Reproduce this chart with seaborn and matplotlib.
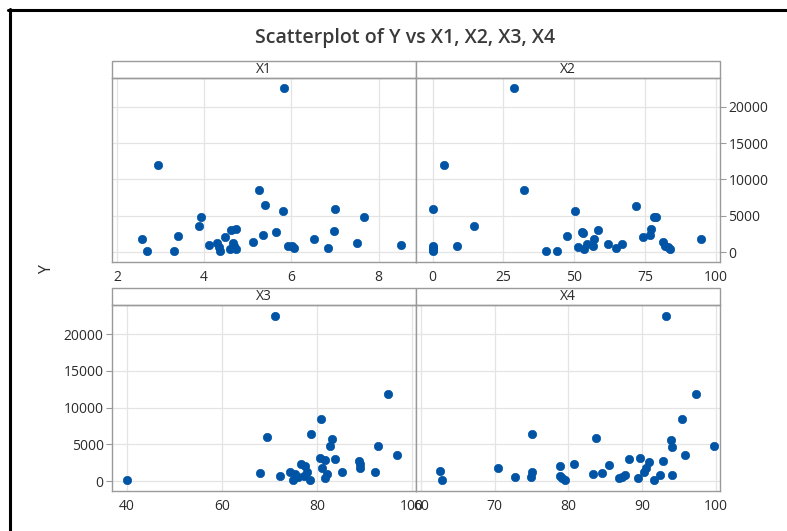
import matplotlib
matplotlib.use("Agg")
import matplotlib.pyplot as plt
import seaborn as sns
import pandas as pd
from matplotlib.patches import Rectangle
from matplotlib.lines import Line2D

# values
x1 = [5.84, 2.93, 5.26, 5.39, 5.81, 7.00, 7.66, 3.92, 3.89, 2.57, 2.68, 3.39, 3.31, 4.11, 4.29, 4.33, 4.36, 4.47,
      4.61, 4.74, 4.59, 4.67, 4.68, 4.74, 5.12, 5.34, 5.65, 5.92, 6.02, 6.05, 6.53, 6.83, 6.98, 7.50, 8.51]
y1 = [22550, 11950, 8550, 6450, 5730, 6000, 4820, 4820, 3590, 1820, 180, 2270, 180, 1050, 1230, 770, 180, 2140,
      3050, 3180, 450, 1230, 860, 450, 1360, 2410, 2730, 820, 910, 640, 1820, 640, 2860, 1230, 950]

x2 = [28.7, 4.1, 32.4, 0, 50.2, 71.9, 78.1, 79.0, 14.6, 77.2, 58.4, 52.9, 53.2, 47.5, 74.3, 76.9, 57.1, 94.7,
      8.5, 0, 0, 0, 0, 39.9, 44.0, 51.3, 53.4, 54.4, 56.8, 61.8, 64.6, 66.9, 81.4, 82.1, 83.0, 84.0]
y2 = [22550, 11950, 8550, 5950, 5680, 6410, 4770, 4770, 3550, 3140, 3000, 2820, 2640, 2230, 2090, 2360, 1770, 1770,
      910, 910, 590, 140, 410, 140, 140, 730, 500, 1180, 820, 1180, 590, 1180, 1360, 910, 680, 500]

x3 = [71.2, 95.0, 80.8, 78.8, 69.5, 83.2, 82.7, 92.9, 96.8, 80.7, 81.7, 83.9, 88.9, 89.1, 89.1, 76.6, 77.6, 81.0,
      68.0, 72.2, 74.3, 75.4, 74.9, 76.0, 77.2, 77.9, 78.5, 81.8, 82.1, 85.3, 92.3, 40.0]
y3 = [22500, 11910, 8500, 6410, 5950, 5730, 4730, 4770, 3590, 3180, 2860, 3000, 2730, 2270, 1770, 2360, 2090, 1820,
      1050, 640, 1230, 950, 180, 500, 730, 1270, 180, 450, 910, 1180, 1180, 180]

x4 = [93.3, 97.3, 95.5, 75.1, 83.8, 94.0, 94.1, 99.8, 95.9, 88.3, 89.7, 90.9, 92.9, 90.5, 90.3, 80.8, 85.5, 78.9,
      70.5, 62.5, 62.8, 72.8, 74.9, 75.1, 78.9, 79.2, 79.6, 83.4, 84.6, 86.9, 87.3, 87.7, 89.5, 91.7, 92.5, 94.1]
y4 = [22450, 11860, 8450, 6360, 5910, 5640, 4680, 4730, 3550, 2950, 3090, 2640, 2770, 1770, 1180, 2360, 2180, 2050,
      1770, 1320, 90, 590, 550, 1180, 730, 450, 140, 1000, 1140, 410, 590, 820, 410, 140, 860, 860]

panel_names = ["X1", "X2", "X3", "X4"]
x_ticks = [[2, 4, 6, 8], [0, 25, 50, 75, 100], [40, 60, 80, 100], [60, 70, 80, 90, 100]]
x_limits = [(1.885, 8.86), (-5.9, 101.5), (36.8, 100.9), (59.3, 100.6)]
y_ticks = [0, 5000, 10000, 15000, 20000]

sns.set_style("white")
plt.rcParams['font.family'] = ['Open Sans', 'DejaVu Sans']

W, H = 787, 531
fig = plt.figure(figsize=(W / 100, H / 100), dpi=100)

text_col = "#2b2b2b"
frame_col = "#9a9a9a"
point_col = "#0054a6"

# axes boxes in pixels: left, top, right, bottom
boxes = [(112, 78, 416, 262), (416, 78, 720, 262), (112, 305, 416, 491), (416, 305, 720, 491)]
data = [(x1, y1), (x2, y2), (x3, y3), (x4, y4)]

for i, (name, (xs, ys), box) in enumerate(zip(panel_names, data, boxes)):
    l, t, r, b = box
    ax = fig.add_axes([l / W, 1 - b / H, (r - l) / W, (b - t) / H])
    df = pd.DataFrame({"x": xs, "y": ys})
    sns.scatterplot(data=df, x="x", y="y", ax=ax, color=point_col, edgecolor=point_col,
                    s=36, linewidth=0.5, zorder=3)
    ax.set_xlim(*x_limits[i])
    ax.set_ylim(-1350, 23950)
    ax.set_xticks(x_ticks[i])
    ax.set_xticklabels([str(v) for v in x_ticks[i]])
    ax.set_yticks(y_ticks)
    ax.set_xlabel("")
    ax.set_ylabel("")
    ax.grid(True, color="#e4e4e4", linewidth=0.9, zorder=0)
    ax.set_axisbelow(True)
    for sp in ax.spines.values():
        sp.set_color(frame_col)
        sp.set_linewidth(1.0)
    ax.tick_params(axis="both", colors=frame_col, labelcolor=text_col, labelsize=10,
                   length=4, width=0.8, direction="out", pad=2)
    if i == 1:
        ax.yaxis.tick_right()
        ax.tick_params(axis="y", left=False, right=True)
    elif i == 2:
        ax.tick_params(axis="y", left=True, right=False)
    else:
        ax.tick_params(axis="y", left=False, right=False, labelleft=False, labelright=False)

    # strip label above the panel
    strip_h = 17 / (b - t)
    ax.add_patch(Rectangle((0, 1), 1, strip_h, transform=ax.transAxes, facecolor="white",
                           edgecolor=frame_col, linewidth=1.0, clip_on=False))
    ax.text(0.5, 1 + strip_h / 2, name, transform=ax.transAxes, ha="center", va="center",
            fontsize=10, color=text_col)

fig.text(405 / W, 1 - 38 / H, "Scatterplot of Y vs X1, X2, X3, X4", ha="center", va="center",
         fontsize=14, fontweight="semibold", color="#3a3a3a")
fig.text(47 / W, 1 - 270 / H, "Y", ha="center", va="center", rotation=90, fontsize=11.5, color=text_col)

# window border at top and left
fig.add_artist(Line2D([8 / W, 1], [1 - 9.5 / H, 1 - 9.5 / H], color="black", linewidth=2.2))
fig.add_artist(Line2D([9.5 / W, 9.5 / W], [0, 1 - 8.5 / H], color="black", linewidth=2.2))

fig.savefig("out.png", dpi=100)
